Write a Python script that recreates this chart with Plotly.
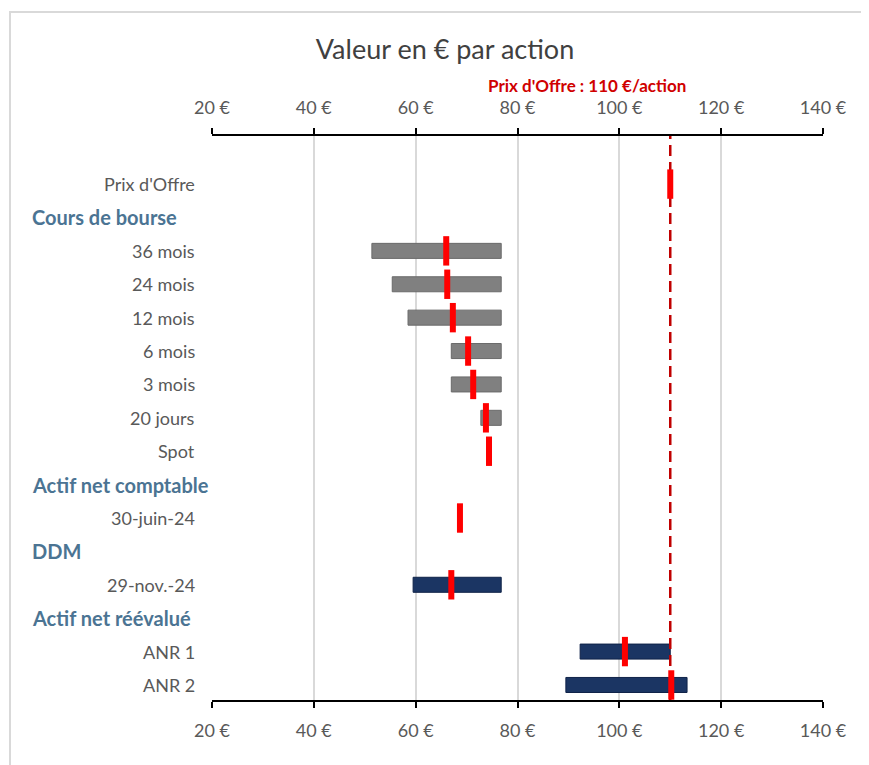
import plotly.graph_objects as go

# ---- data ----
rows = ["Prix d'Offre", "Cours de bourse", "36 mois", "24 mois", "12 mois", "6 mois", "3 mois",
        "20 jours", "Spot", "Actif net comptable", "30-juin-24", "DDM", "29-nov.-24",
        "Actif net réévalué", "ANR 1", "ANR 2"]
headers = ["Cours de bourse", "Actif net comptable", "DDM", "Actif net réévalué"]

bar_labels_gray = ["36 mois", "24 mois", "12 mois", "6 mois", "3 mois", "20 jours"]
gray_low = [51.4, 55.4, 58.5, 67.0, 67.0, 72.8]
gray_high = [76.8, 76.8, 76.8, 76.8, 76.8, 76.8]

bar_labels_navy = ["29-nov.-24", "ANR 1", "ANR 2"]
navy_low = [59.5, 92.3, 89.5]
navy_high = [76.8, 110.0, 113.3]

mark_labels = ["Prix d'Offre", "36 mois", "24 mois", "12 mois", "6 mois", "3 mois", "20 jours",
               "Spot", "30-juin-24", "29-nov.-24", "ANR 1", "ANR 2"]
mark_values = [110.0, 66.0, 66.2, 67.3, 70.3, 71.3, 73.8, 74.4, 68.7, 67.0, 101.1, 110.2]

offer_price = 110
tick_vals = [20, 40, 60, 80, 100, 120, 140]
tick_text = ["20 €", "40 €", "60 €", "80 €", "100 €", "120 €", "140 €"]

idx = {r: i for i, r in enumerate(rows)}
y_range = [15.45, -1.44]

fig = go.Figure()

fig.add_trace(go.Bar(
    y=[idx[l] for l in bar_labels_gray],
    x=[h - l for l, h in zip(gray_low, gray_high)],
    base=gray_low, orientation="h", width=0.45,
    marker=dict(color="#808080", line=dict(color="#6a6a6a", width=1)),
    showlegend=False, hoverinfo="skip"))

fig.add_trace(go.Bar(
    y=[idx[l] for l in bar_labels_navy],
    x=[h - l for l, h in zip(navy_low, navy_high)],
    base=navy_low, orientation="h", width=0.45,
    marker=dict(color="#1b3563", line=dict(color="#0f2248", width=1)),
    showlegend=False, hoverinfo="skip"))

fig.add_trace(go.Scatter(
    x=[offer_price, offer_price], y=y_range, mode="lines",
    line=dict(color="#c00000", width=2.5, dash="11px,6px"),
    showlegend=False, hoverinfo="skip"))

fig.add_trace(go.Scatter(
    x=mark_values, y=[idx[l] for l in mark_labels], mode="markers",
    marker=dict(symbol="line-ns", size=21, line=dict(color="#ff0000", width=6)),
    showlegend=False, hoverinfo="skip"))

# invisible trace for top axis
fig.add_trace(go.Scatter(x=[20, 140], y=[0, 0], xaxis="x2", mode="markers",
                         marker=dict(opacity=0), showlegend=False, hoverinfo="skip"))

axis_common = dict(range=[20, 140], tickvals=tick_vals, ticktext=tick_text,
                   showgrid=True, gridcolor="#d9d9d9", gridwidth=1.5,
                   showline=True, linecolor="black", linewidth=2,
                   ticks="outside", ticklen=6, tickcolor="black", tickwidth=2,
                   ticklabelstandoff=7,
                   tickfont=dict(family="Lato", size=18, color="#595959"),
                   zeroline=False, fixedrange=True)

fig.update_layout(
    width=861, height=757,
    margin=dict(l=204, r=46, t=128, b=65),
    paper_bgcolor="white", plot_bgcolor="white",
    barmode="overlay",
    xaxis=dict(**axis_common, side="bottom"),
    xaxis2=dict(**axis_common, side="top", overlaying="x", matches="x"),
    yaxis=dict(range=y_range, showticklabels=False, showgrid=False,
               zeroline=False, showline=False, ticks=""),
    title=dict(text="Valeur en € par action", x=0.5076, xanchor="center", y=0.9445,
               yanchor="middle", font=dict(family="Lato", size=27, color="#404040")),
)

fig.add_annotation(text="<b>Prix d'Offre : 110 €/action</b>", xref="paper", yref="paper",
                   x=0.779, y=1.0887, xanchor="right", yanchor="middle",
                   showarrow=False, font=dict(family="Lato", size=17, color="#d00000"))

for r in rows:
    if r in headers:
        fig.add_annotation(text="<b>" + r + "</b>", xref="paper", yref="y",
                           x=-0.298, y=idx[r], xanchor="left", yanchor="middle", showarrow=False,
                           font=dict(family="Lato", size=20, color="#4b7493"))
    else:
        fig.add_annotation(text=r, xref="paper", yref="y",
                           x=-0.0245, y=idx[r], xanchor="right", yanchor="middle", showarrow=False,
                           font=dict(family="Lato", size=18, color="#595959"))

fig.add_shape(type="rect", xref="paper", yref="paper", x0=-0.3306, x1=1.0638, y0=-0.3, y1=1.2199,
              line=dict(color="#d9d9d9", width=2), fillcolor="rgba(0,0,0,0)", layer="below")

fig.write_html("out.html")
